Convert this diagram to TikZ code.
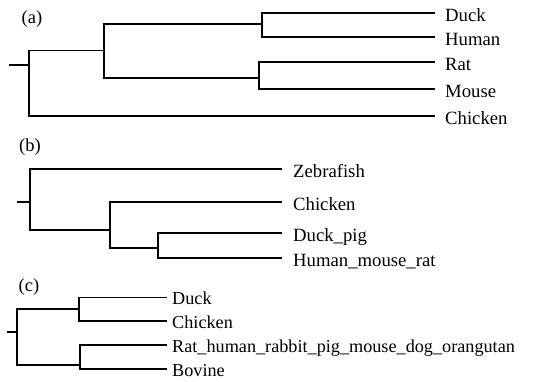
\documentclass[tikz,border=0pt]{standalone}
\usepackage{fontspec}
\setmainfont{Liberation Serif}
\begin{document}
\begin{tikzpicture}[x=1pt,y=-1pt,
  br/.style={line width=1.8pt,line join=miter},
  leaf/.style={anchor=base west,inner sep=0pt,font=\fontsize{18.7}{22}\selectfont},
  leafc/.style={leaf,font=\fontsize{18.2}{22}\selectfont},
  plabel/.style={anchor=center,inner sep=0pt,font=\fontsize{18.5}{22}\selectfont}]
\useasboundingbox (0,0) rectangle (547,381);
% ---------- (a)
\node[plabel] (la) at (32,19.5) {(a)};
\coordinate (a0) at (9,65);
\coordinate (ar) at (29,65);
\coordinate (a1) at (104,50.5);
\coordinate (a2) at (262,24);
\coordinate (a3) at (259,78);
\coordinate (tDuck) at (435,13);
\coordinate (tHuman) at (435,37);
\coordinate (tRat) at (435,62);
\coordinate (tMouse) at (435,89);
\coordinate (tChicken) at (435,116);
\draw[br] (a0) -- (ar);
\draw[br] (a1) -| (ar) |- (tChicken);
\draw[br] (a2) -| (a1) |- (a3);
\draw[br] (tDuck) -| (a2) |- (tHuman);
\draw[br] (tRat) -| (a3) |- (tMouse);
\node[leaf] (nDuck) at (445,21.5) {Duck};
\node[leaf] (nHuman) at (445,45.5) {Human};
\node[leaf] (nRat) at (445,70.5) {Rat};
\node[leaf] (nMouse) at (445,97.5) {Mouse};
\node[leaf] (nChicken) at (445,124.5) {Chicken};
% ---------- (b)
\node[plabel] (lb) at (30,147) {(b)};
\coordinate (b0) at (17,201.7);
\coordinate (brt) at (30,201.7);
\coordinate (b1) at (110,230);
\coordinate (b2) at (158,247.7);
\coordinate (tZebra) at (282,169.3);
\coordinate (tChickenB) at (282,202.3);
\coordinate (tDuckpig) at (282,233.3);
\coordinate (tHMR) at (282,258.3);
\draw[br] (b0) -- (brt);
\draw[br] (tZebra) -| (brt) |- (b1);
\draw[br] (tChickenB) -| (b1) |- (b2);
\draw[br] (tDuckpig) -| (b2) |- (tHMR);
\node[leaf] (nZebra) at (293,177) {Zebrafish};
\node[leaf] (nChickenB) at (293,210) {Chicken};
\node[leaf] (nDuckpig) at (293,241) {Duck\_pig};
\node[leaf] (nHMR) at (293,266) {Human\_mouse\_rat};
% ---------- (c)
\node[plabel] (lc) at (29,287) {(c)};
\coordinate (c0) at (7,332);
\coordinate (crt) at (17,332);
\coordinate (c1) at (79,309);
\coordinate (c2) at (80,365);
\coordinate (tDuckC) at (167,297.5);
\coordinate (tChickenC) at (167,321);
\coordinate (tRHR) at (167,345);
\coordinate (tBovine) at (167,369);
\draw[br] (c0) -- (crt);
\draw[br] (c1) -| (crt) |- (c2);
\draw[br] (tDuckC) -| (c1) |- (tChickenC);
\draw[br] (tRHR) -| (c2) |- (tBovine);
\node[leafc] (nDuckC) at (172,304.5) {Duck};
\node[leafc] (nChickenC) at (172,328) {Chicken};
\node[leafc] (nRHR) at (172,352) {Rat\_human\_rabbit\_pig\_mouse\_dog\_orangutan};
\node[leafc] (nBovine) at (172,376) {Bovine};
\end{tikzpicture}
\end{document}
